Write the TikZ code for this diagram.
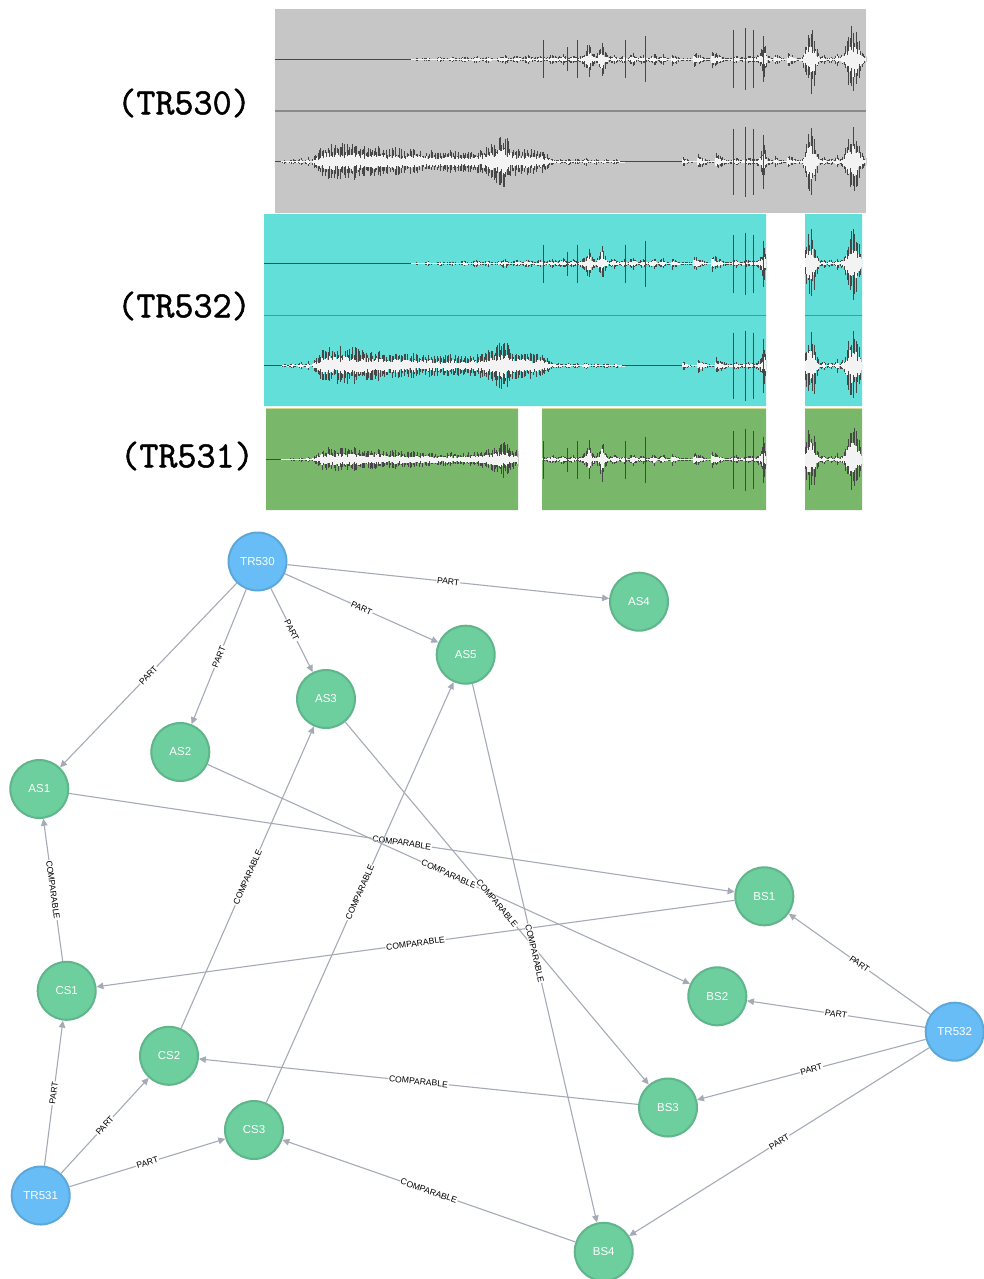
\documentclass[tikz,border=0pt]{standalone}
\usepackage{fontspec}
\newfontfamily\gfont{Liberation Sans}
\newfontfamily\trfont[FakeBold=1.3]{Latin Modern Mono}
\usetikzlibrary{arrows.meta}

\definecolor{panelgrey}{HTML}{C6C6C6}
\definecolor{panelcyan}{HTML}{63DFDA}
\definecolor{panelgreen}{HTML}{79B76A}
\definecolor{sepgrey}{HTML}{8A8A8A}
\definecolor{sepcyan}{HTML}{3E9E9B}
\definecolor{seamyellow}{HTML}{D2D98C}
\definecolor{wavedark}{HTML}{474747}
\definecolor{wavecore}{HTML}{F3F3F3}
\definecolor{trfill}{HTML}{68BDF6}
\definecolor{trline}{HTML}{5CA8DB}
\definecolor{sfill}{HTML}{6DCE9E}
\definecolor{sline}{HTML}{60B58B}
\definecolor{edgec}{HTML}{A5ABB6}

\tikzset{
  hair/.style={draw=wavedark, line width=0.65pt},
  wcore/.style={draw=wavecore, line width=1.5pt},
  spike/.style={draw=wavedark, line width=0.9pt},
  baseln/.style={draw=wavedark, line width=0.8pt},
  tracklabel/.style={font=\trfont\fontsize{37}{40}\selectfont, inner sep=0pt},
  gnode/.style={circle, minimum size=58pt, line width=2pt, inner sep=0pt,
                font=\gfont\fontsize{11.5}{12}\selectfont, text=white},
  trnode/.style={gnode, fill=trfill, draw=trline},
  segnode/.style={gnode, fill=sfill, draw=sline},
  rel/.style={draw=edgec, line width=1.1pt, -{Triangle[length=7pt,width=6.5pt]}},
  lab/.style={font=\gfont\fontsize{8.6}{9}\selectfont, fill=white, inner sep=0.8pt,
              sloped, midway, text=black}
}

% one stretch of a waveform channel: centre y, scale, x_a, amp_a, x_b, amp_b
\newcommand\wseg[6]{%
  \pgfmathtruncatemacro\wn{max(1,round(abs(#5-#3)/1.4))}%
  \foreach \k in {0,...,\wn}{%
    \pgfmathsetmacro\xx{#3+(#5-#3)*\k/\wn}%
    \pgfmathsetmacro\am{#2*(#4+(#6-#4)*\k/\wn)}%
    \draw[hair] (\xx,{#1-\am*(0.45+0.55*rnd)}) -- (\xx,{#1+\am*(0.45+0.55*rnd)});%
    \draw[wcore] (\xx,{#1-\am*(0.2+0.3*rnd)}) -- (\xx,{#1+\am*(0.2+0.3*rnd)});%
  }}

% a channel envelope given as a list x/amp
\newcommand\wave[3]{%
  \foreach \wx/\wa [remember=\wx as \px (initially 0), remember=\wa as \pa (initially 0)] in #2 {%
    \pgfmathsetmacro\ssum{\pa+\wa}%
    \ifdim\ssum pt>0.01pt \ifdim\px pt>0pt \wseg{#1}{#3}{\px}{\pa}{\wx}{\wa}\fi\fi
  }}

% tall transients
\newcommand\wspk[2]{%
  \foreach \sx/\sa in #2 {\draw[spike] (\sx,{#1-\sa}) -- (\sx,{#1+\sa});}}

\def\listUa{410/0, 416/2, 420/0.5, 428/2.5, 434/0.5, 440/3, 446/1, 452/3, 458/1, 464/3.5, 470/1, 476/4, 482/1.5, 488/4, 494/1, 500/3, 505/5, 510/1.5, 516/4, 522/2, 528/5, 534/2, 540/4, 546/2, 552/5, 558/3, 563/6, 568/2, 573/5, 578/2, 582/5, 586/9, 589/20, 592/8, 596/4, 599/10, 602/24, 605/10, 609/3, 614/6, 619/2, 624/5, 628/2, 633/7, 638/2, 643/5, 648/2, 654/7, 658/2, 663/6, 667/2, 671/1.5, 672/7, 681/1.5, 693/1.5, 694/8, 706/1.5, 711/1.5, 712/9, 725/2, 730/2}
\def\listR{730/2, 736/5, 740/2, 748/4, 756/3, 760/7, 764/18, 768/4, 774/1.5, 775/6, 783/1.5, 787/1.5, 788/8, 797/2, 802/3, 805/14, 808/30, 811/35, 814/28, 817/12, 820/3, 824/5, 827/2, 831/4, 834/2, 837/7, 840/3, 844/8, 847/20, 850/32, 853/37, 856/30, 859/20, 862/10, 866/4, 870/0}
\def\listLa{280/0, 284/2, 288/0.5, 293/3, 297/0.8, 301/4, 304/1, 308/5, 311/1, 314/6, 318/10, 322/16, 328/19, 334/17, 340/20, 347/18, 354/19, 362/16, 370/15, 378/16, 386/13, 395/15, 404/12, 413/13, 422/11, 431/12, 440/10, 450/12, 460/10, 470/11, 480/12, 488/16, 494/20, 499/24, 503/28, 507/24, 512/16, 518/14, 524/13, 530/14, 536/12, 542/12, 547/8, 551/4, 556/2, 560/3, 564/1, 568/4, 572/1, 577/3, 581/1, 586/4, 590/1, 596/3, 600/1, 606/3, 610/1, 616/3, 620/0.7, 626/0}
\def\listLb{681/0, 683/5, 690/1, 697/1, 698/8, 709/1.5, 715/1.5, 716/9, 728/2, 730/2}
\def\spU{543/19, 567/12, 577/19, 625/19, 645/23, 733/29, 745/31, 753/29, 763/23}
\def\spL{733/33, 745/35, 753/33, 763/27}

\begin{document}
\begin{tikzpicture}[x=1pt, y=-1pt]
\pgfmathsetseed{4217}
\useasboundingbox[fill=white] (0,0) rectangle (983,1279);

% ---------- track TR530 (two channels) ----------
\fill[panelgrey] (275,9) rectangle (866,213);
\begin{scope}
  \clip (275,9) rectangle (866,213);
  \draw[baseln] (270,59.5) -- (870,59.5);
  \draw[baseln] (270,161.7) -- (870,161.7);
  \wave{59.5}{\listUa}{1} \wave{59.5}{\listR}{1} \wspk{59.5}{\spU}
  \wave{161.7}{\listLa}{1} \wave{161.7}{\listLb}{1} \wave{161.7}{\listR}{1} \wspk{161.7}{\spL}
\end{scope}
\draw[sepgrey, line width=1.5pt] (275,111) -- (866,111);

% ---------- track TR532 (two channels, one cut) ----------
\fill[panelcyan] (264,214) rectangle (766,406) (805,214) rectangle (862,406);
\begin{scope}
  \clip (264,214) rectangle (766,406) (805,214) rectangle (862,406);
  \draw[baseln] (260,263.5) -- (870,263.5);
  \draw[baseln] (260,365.7) -- (870,365.7);
  \wave{263.5}{\listUa}{1} \wave{263.5}{\listR}{1} \wspk{263.5}{\spU}
  \wave{365.7}{\listLa}{1} \wave{365.7}{\listLb}{1} \wave{365.7}{\listR}{1} \wspk{365.7}{\spL}
  \draw[sepcyan, line width=1.3pt] (260,315.7) -- (870,315.7);
\end{scope}

% ---------- track TR531 (one channel, two cuts) ----------
\fill[panelgreen] (266,409) rectangle (518,510) (542,409) rectangle (766,510) (805,409) rectangle (862,510);
\begin{scope}
  \clip (266,409) rectangle (518,510) (542,409) rectangle (766,510) (805,409) rectangle (862,510);
  \draw[baseln] (260,459.5) -- (870,459.5);
  \begin{scope}
    \clip (260,400) rectangle (530,520);
    \wave{459.5}{\listLa}{0.65}
  \end{scope}
  \begin{scope}
    \clip (530,400) rectangle (870,520);
    \wave{459.5}{\listUa}{1}
  \end{scope}
  \wave{459.5}{\listR}{1} \wspk{459.5}{\spU}
\end{scope}
\draw[seamyellow, line width=1pt] (266,408.5) -- (518,408.5) (542,408.5) -- (766,408.5) (805,408.5) -- (862,408.5);

% track names
\node[tracklabel] (lab530) at (184,103) {(TR530)};
\node[tracklabel] (lab532) at (184,306) {(TR532)};
\node[tracklabel] (lab531) at (187,456) {(TR531)};

% ---------- graph of tracks and segments ----------
\node[trnode]  (tr530) at (257.5,561.5) {TR530};
\node[trnode]  (tr531) at (40.7,1195.5) {TR531};
\node[trnode]  (tr532) at (954.7,1031.7) {TR532};

\node[segnode] (as1) at (39.3,789)   {AS1};
\node[segnode] (as2) at (180.3,752)  {AS2};
\node[segnode] (as3) at (326,699)    {AS3};
\node[segnode] (as4) at (639,601.7)  {AS4};
\node[segnode] (as5) at (465.7,654.7) {AS5};

\node[segnode] (bs1) at (764.3,896.3) {BS1};
\node[segnode] (bs2) at (717.3,996.3) {BS2};
\node[segnode] (bs3) at (668,1107.5)  {BS3};
\node[segnode] (bs4) at (603.7,1251.8) {BS4};

\node[segnode] (cs1) at (66.7,990.8) {CS1};
\node[segnode] (cs2) at (169,1055.8) {CS2};
\node[segnode] (cs3) at (254,1130)   {CS3};

% PART relations
\draw[rel] (tr530) -- node[lab] {PART} (as1);
\draw[rel] (tr530) -- node[lab] {PART} (as2);
\draw[rel] (tr530) -- node[lab] {PART} (as3);
\draw[rel] (tr530) -- node[lab] {PART} (as4);
\draw[rel] (tr530) -- node[lab] {PART} (as5);
\draw[rel] (tr532) -- node[lab] {PART} (bs1);
\draw[rel] (tr532) -- node[lab] {PART} (bs2);
\draw[rel] (tr532) -- node[lab] {PART} (bs3);
\draw[rel] (tr532) -- node[lab] {PART} (bs4);
\draw[rel] (tr531) -- node[lab] {PART} (cs1);
\draw[rel] (tr531) -- node[lab] {PART} (cs2);
\draw[rel] (tr531) -- node[lab] {PART} (cs3);

% COMPARABLE relations
\draw[rel] (cs1) -- node[lab] {COMPARABLE} (as1);
\draw[rel] (as1) -- node[lab] {COMPARABLE} (bs1);
\draw[rel] (bs1) -- node[lab] {COMPARABLE} (cs1);
\draw[rel] (cs2) -- node[lab] {COMPARABLE} (as3);
\draw[rel] (cs3) -- node[lab] {COMPARABLE} (as5);
\draw[rel] (as2) -- node[lab] {COMPARABLE} (bs2);
\draw[rel] (as3) -- node[lab] {COMPARABLE} (bs3);
\draw[rel] (as5) -- node[lab] {COMPARABLE} (bs4);
\draw[rel] (bs3) -- node[lab] {COMPARABLE} (cs2);
\draw[rel] (bs4) -- node[lab] {COMPARABLE} (cs3);
\end{tikzpicture}
\end{document}
